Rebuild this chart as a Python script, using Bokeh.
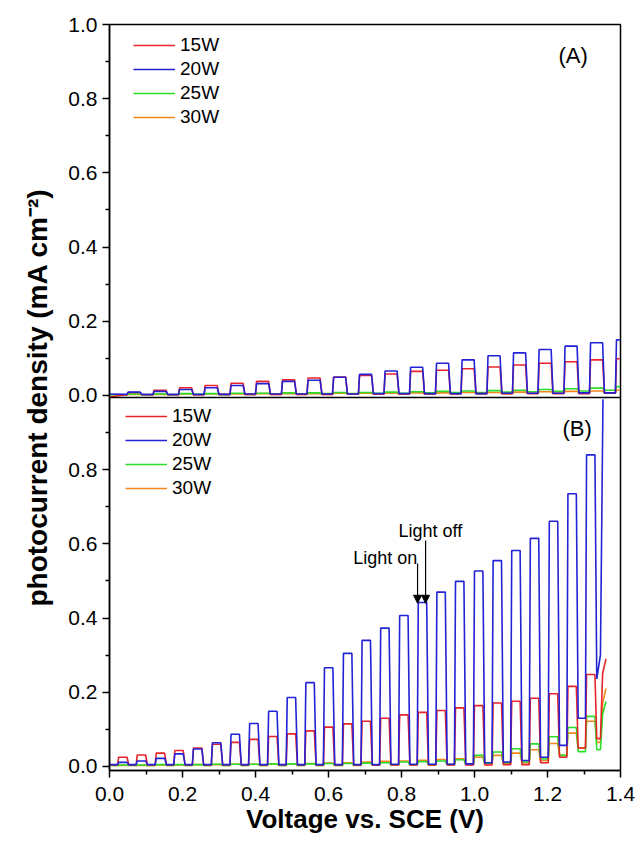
from bokeh.plotting import figure
from bokeh.models import (Range1d, FixedTicker, Span, Label, Arrow, NormalHead,
                          Legend, LegendItem, NumeralTickFormatter)
from bokeh.embed import file_html
from bokeh.resources import INLINE

# ---------------- data ----------------
series_names = ["15W", "20W", "25W", "30W"]
colors = {"15W": "#e8232a", "20W": "#2323d6", "25W": "#2bdc2b", "30W": "#f7851e"}

# Panel (A): light-on voltages (V)
A_starts = [0.048, 0.119, 0.189, 0.259, 0.330, 0.400, 0.471, 0.541, 0.611, 0.682,
            0.752, 0.822, 0.893, 0.963, 1.034, 1.104, 1.174, 1.245, 1.315, 1.386]
A_on_width = 0.036
A_end = 1.398
A_init = {"15W": -0.004, "20W": 0.004, "25W": 0.002, "30W": 0.002}
A_pre = {"15W": 0.002, "20W": 0.003, "25W": 0.002, "30W": 0.002}
A_on = {
    "15W": [0.008, 0.014, 0.021, 0.027, 0.033, 0.038, 0.042, 0.047, 0.050, 0.054,
            0.058, 0.065, 0.068, 0.072, 0.077, 0.082, 0.087, 0.091, 0.096, 0.099],
    "20W": [0.009, 0.011, 0.016, 0.021, 0.027, 0.032, 0.038, 0.041, 0.049, 0.057,
            0.066, 0.076, 0.087, 0.096, 0.107, 0.115, 0.124, 0.133, 0.142, 0.150],
    "25W": [0.004, 0.004, 0.005, 0.005, 0.006, 0.006, 0.007, 0.007, 0.008, 0.008,
            0.009, 0.010, 0.011, 0.012, 0.013, 0.014, 0.016, 0.018, 0.020, 0.024],
    "30W": [0.003, 0.003, 0.004, 0.004, 0.004, 0.005, 0.005, 0.005, 0.006, 0.006,
            0.006, 0.007, 0.007, 0.008, 0.008, 0.009, 0.010, 0.011, 0.012, 0.014],
}
A_off = {
    "15W": [0.002, 0.002, 0.002, 0.003, 0.003, 0.003, 0.003, 0.003, 0.004, 0.004,
            0.004, 0.004, 0.004, 0.005, 0.005, 0.005, 0.005, 0.005, 0.006],
    "20W": [0.003, 0.003, 0.003, 0.003, 0.004, 0.004, 0.004, 0.004, 0.004, 0.005,
            0.005, 0.005, 0.005, 0.005, 0.006, 0.006, 0.006, 0.007, 0.007],
    "25W": [0.002, 0.002, 0.003, 0.003, 0.003, 0.004, 0.004, 0.005, 0.005, 0.006,
            0.006, 0.007, 0.008, 0.008, 0.009, 0.010, 0.011, 0.012, 0.014],
    "30W": [0.002, 0.002, 0.002, 0.002, 0.003, 0.003, 0.003, 0.003, 0.004, 0.004,
            0.004, 0.004, 0.005, 0.005, 0.005, 0.006, 0.006, 0.007, 0.007],
}

# Panel (B): light-on voltages (V)
B_starts = [0.022, 0.073, 0.125, 0.176, 0.227, 0.279, 0.330, 0.381, 0.433, 0.484,
            0.535, 0.586, 0.638, 0.689, 0.740, 0.792, 0.843, 0.894, 0.945, 0.997,
            1.048, 1.099, 1.150, 1.202, 1.253, 1.304]
B_on_width = 0.026
B_init = {"15W": 0.004, "20W": 0.005, "25W": 0.003, "30W": 0.003}
B_on = {
    "15W": [0.025, 0.031, 0.036, 0.043, 0.050, 0.060, 0.065, 0.073, 0.081, 0.088,
            0.096, 0.106, 0.115, 0.122, 0.130, 0.139, 0.146, 0.151, 0.158, 0.164,
            0.171, 0.176, 0.184, 0.196, 0.216, 0.248],
    "20W": [0.011, 0.015, 0.022, 0.034, 0.047, 0.064, 0.087, 0.116, 0.149, 0.186,
            0.226, 0.266, 0.305, 0.340, 0.373, 0.407, 0.442, 0.470, 0.499, 0.527,
            0.555, 0.582, 0.615, 0.661, 0.735, 0.840],
    "25W": [0.004, 0.004, 0.005, 0.005, 0.005, 0.006, 0.006, 0.006, 0.007, 0.007,
            0.007, 0.008, 0.008, 0.009, 0.010, 0.012, 0.013, 0.015, 0.018, 0.030,
            0.039, 0.048, 0.061, 0.080, 0.105, 0.135],
    "30W": [0.003, 0.003, 0.004, 0.004, 0.005, 0.005, 0.006, 0.006, 0.007, 0.007,
            0.008, 0.009, 0.010, 0.012, 0.014, 0.015, 0.017, 0.019, 0.021, 0.025,
            0.030, 0.036, 0.045, 0.062, 0.090, 0.122],
}
B_off = {
    "15W": [0.004, 0.004, 0.004, 0.004, 0.004, 0.004, 0.004, 0.004, 0.004, 0.004,
            0.004, 0.004, 0.004, 0.004, 0.004, 0.004, 0.004, 0.004, 0.004, 0.004,
            0.005, 0.005, 0.010, 0.025, 0.050, 0.075],
    "20W": [0.005, 0.005, 0.005, 0.005, 0.005, 0.005, 0.005, 0.005, 0.005, 0.005,
            0.005, 0.005, 0.005, 0.005, 0.006, 0.006, 0.006, 0.006, 0.007, 0.010,
            0.012, 0.016, 0.025, 0.057, 0.130, 0.236],
    "25W": [0.003, 0.003, 0.003, 0.003, 0.003, 0.003, 0.003, 0.003, 0.003, 0.003,
            0.003, 0.003, 0.004, 0.004, 0.004, 0.004, 0.005, 0.005, 0.006, 0.009,
            0.010, 0.012, 0.020, 0.030, 0.040, 0.045],
    "30W": [0.003, 0.003, 0.003, 0.003, 0.003, 0.003, 0.003, 0.003, 0.003, 0.003,
            0.003, 0.003, 0.003, 0.004, 0.004, 0.004, 0.004, 0.005, 0.005, 0.006,
            0.007, 0.010, 0.016, 0.030, 0.050, 0.065],
}
# final (partial) light-on step at the end of the sweep in (B)
B_tail_x = {
    "15W": [1.345, 1.351, 1.360],
    "20W": [1.345, 1.352],
    "25W": [1.345, 1.351, 1.360],
    "30W": [1.345, 1.351, 1.360],
}
B_tail_y = {
    "15W": [0.075, 0.250, 0.290],
    "20W": [0.300, 0.990],
    "25W": [0.045, 0.140, 0.175],
    "30W": [0.065, 0.170, 0.210],
}

x_ticks = [0.0, 0.2, 0.4, 0.6, 0.8, 1.0, 1.2, 1.4]
x_minor = [0.1, 0.3, 0.5, 0.7, 0.9, 1.1, 1.3]
B_ticks = [0.0, 0.2, 0.4, 0.6, 0.8]
B_minor = [0.1, 0.3, 0.5, 0.7, 0.9]
A_ticks = [0.0, 0.2, 0.4, 0.6, 0.8, 1.0]
A_minor = [0.1, 0.3, 0.5, 0.7, 0.9]

x_title = "Voltage vs. SCE (V)"
y_title = "photocurrent density (mA cm\u207b\u00b2)"

# ---------------- layout constants ----------------
B_YMIN = -0.0108      # bottom of panel (B)
A_ZERO = 1.0          # where panel (A)'s zero sits on the shared vertical scale
A_YMAX = 1.0          # top of panel (A)
A_YMIN = -0.0054      # bottom of panel (A) = separator line
RISE, FALL = 0.003, 0.005

FONT = "Liberation Sans"


def wave(starts, on_w, on_vals, off_vals, x0, y0, pre0, end_x=None):
    xs, ys = [x0], [y0]
    prev = pre0
    for i, s in enumerate(starts):
        if i < len(off_vals):
            xs += [s, s + RISE, s + on_w, s + on_w + FALL]
            ys += [prev, on_vals[i], on_vals[i], off_vals[i]]
            prev = off_vals[i]
        else:
            xs += [s, s + RISE, end_x]
            ys += [prev, on_vals[i], on_vals[i]]
    return xs, ys


p = figure(frame_width=511, frame_height=746,
           min_border_left=109, min_border_right=18,
           min_border_top=24, min_border_bottom=71,
           x_range=Range1d(0.0, 1.4),
           y_range=Range1d(B_YMIN, A_ZERO + A_YMAX),
           output_backend="svg", toolbar_location=None,
           background_fill_color="white", border_fill_color="white")
p.extra_y_ranges = {"top": Range1d(B_YMIN - A_ZERO, A_YMAX)}
p.grid.visible = False
p.outline_line_color = "black"
p.outline_line_width = 1.5
p.outline_line_alpha = 1.0

# panel separator
p.add_layout(Span(location=A_YMIN, dimension="width", y_range_name="top",
                  line_color="black", line_width=1.5))

draw_order = ["30W", "25W", "15W", "20W"]
rA, rB = {}, {}
for name in draw_order:
    xa, ya = wave(A_starts, A_on_width, A_on[name], A_off[name], 0.0,
                  A_init[name], A_pre[name], end_x=A_end)
    rA[name] = p.line(xa, ya, line_color=colors[name], line_width=1.6,
                      y_range_name="top")
    xb, yb = wave(B_starts, B_on_width, B_on[name], B_off[name], 0.0,
                  B_init[name], B_init[name])
    xb = xb + B_tail_x[name]
    yb = yb + B_tail_y[name]
    rB[name] = p.line(xb, yb, line_color=colors[name], line_width=1.6)

# axes
p.xaxis.ticker = FixedTicker(ticks=x_ticks, minor_ticks=x_minor)
p.xaxis.formatter = NumeralTickFormatter(format="0.0")
y_major = [round(v, 6) for v in B_ticks] + [round(v + A_ZERO, 6) for v in A_ticks]
y_minor = [round(v, 6) for v in B_minor] + [round(v + A_ZERO, 6) for v in A_minor]
overrides = {}
for v in B_ticks:
    overrides[round(v, 6)] = f"{v:.1f}"
for v in A_ticks:
    overrides[round(v + A_ZERO, 6)] = f"{v:.1f}"
p.yaxis.ticker = FixedTicker(ticks=y_major, minor_ticks=y_minor)
p.yaxis.major_label_overrides = overrides

for ax in (p.xaxis[0], p.yaxis[0]):
    ax.axis_line_color = "black"
    ax.axis_line_width = 1.5
    ax.major_tick_line_color = "black"
    ax.major_tick_line_width = 1.5
    ax.minor_tick_line_color = "black"
    ax.minor_tick_line_width = 1.5
    ax.major_tick_in = 0
    ax.major_tick_out = 7
    ax.minor_tick_in = 0
    ax.minor_tick_out = 4
    ax.major_label_text_font = FONT
    ax.major_label_text_font_size = "21px"
    ax.major_label_text_color = "black"
    ax.axis_label_text_font = FONT
    ax.axis_label_text_font_style = "bold"
    ax.axis_label_text_color = "black"

p.xaxis.major_label_standoff = 9
p.yaxis.major_label_standoff = 5
p.xaxis.axis_label = x_title
p.xaxis.axis_label_text_font_size = "26px"
p.xaxis.axis_label_standoff = 0
p.yaxis.axis_label = y_title
p.yaxis.axis_label_text_font_size = "28px"
p.yaxis.axis_label_standoff = 12

# legends
def make_legend(renderers, loc):
    items = [LegendItem(label=n, renderers=[renderers[n]]) for n in series_names]
    return Legend(items=items, location=loc, orientation="vertical",
                  border_line_alpha=0, background_fill_alpha=0,
                  glyph_width=42, glyph_height=20, label_height=20,
                  spacing=2, padding=0, margin=0, label_standoff=5,
                  label_text_font=FONT, label_text_font_size="19px",
                  label_text_color="black")

p.add_layout(make_legend(rA, (24, 642)))
p.add_layout(make_legend(rB, (16, 271)))

# panel tags
p.add_layout(Label(x=1.270, y=0.916, text="(A)", y_range_name="top",
                   text_align="center", text_baseline="middle",
                   text_font=FONT, text_font_size="22px", text_color="black"))
p.add_layout(Label(x=1.281, y=0.911, text="(B)",
                   text_align="center", text_baseline="middle",
                   text_font=FONT, text_font_size="22px", text_color="black"))

# light on / off annotations (panel B)
p.add_layout(Label(x=0.668, y=0.563, text="Light on", text_baseline="middle",
                   text_font=FONT, text_font_size="18px", text_color="black"))
p.add_layout(Label(x=0.792, y=0.636, text="Light off", text_baseline="middle",
                   text_font=FONT, text_font_size="18px", text_color="black"))
p.add_layout(Arrow(x_start=0.844, y_start=0.547, x_end=0.844, y_end=0.440,
                   line_color="black", line_width=1.2,
                   end=NormalHead(size=8, fill_color="black", line_color="black")))
p.add_layout(Arrow(x_start=0.866, y_start=0.609, x_end=0.866, y_end=0.440,
                   line_color="black", line_width=1.2,
                   end=NormalHead(size=8, fill_color="black", line_color="black")))

open("out.html", "w").write(file_html(p, INLINE))
